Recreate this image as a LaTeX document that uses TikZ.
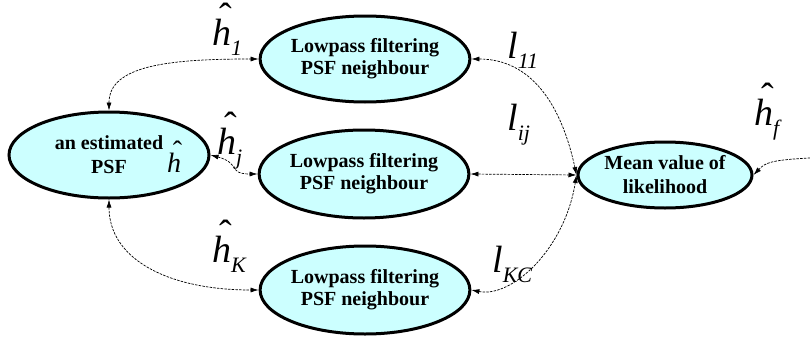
\documentclass[tikz,border=0pt]{standalone}
\usepackage{fontspec}
\setmainfont{Liberation Serif}
\usetikzlibrary{shapes.geometric,arrows.meta}

\definecolor{pale}{RGB}{204,255,255}

% h with a detached circumflex above it
\newcommand\hath{\makebox[0pt][l]{\raisebox{0.4em}{\hspace{0.2em}\upshape\char"02C6}}h}
% a large italic symbol with a lowered subscript
\newcommand\symsub[2]{#1\raisebox{-0.27em}{\fontsize{22}{22}\selectfont #2}}

\tikzset{
  x=1pt, y=-1pt,
  blob/.style={ellipse, draw=black, line width=3pt, fill=pale,
    inner sep=0pt, align=center,
    font=\bfseries\fontsize{20}{24}\selectfont},
  lowpass/.style={blob, minimum width=186pt, minimum height=86pt,
    font=\bfseries\fontsize{20}{22}\selectfont},
  sym/.style={inner sep=0pt, anchor=base west,
    font=\itshape\fontsize{38}{38}\selectfont},
  link/.style={line width=0.7pt, dash pattern=on 2.5pt off 1.2pt,
    {Latex[length=8pt,width=5pt]}-{Latex[length=8pt,width=5pt]}},
  feed/.style={line width=0.7pt, dash pattern=on 2.5pt off 1.2pt,
    -{Latex[length=8pt,width=5pt]}}
}

\begin{document}
\begin{tikzpicture}
\path[use as bounding box] (0,0) rectangle (810,340);

% nodes
\node[blob, minimum width=200pt, minimum height=86pt] (est) at (109,155) {an estimated\\PSF};
\node[lowpass] (lp1) at (365,59) {Lowpass filtering\\PSF neighbour};
\node[lowpass, minimum height=88pt] (lp2) at (364,174) {Lowpass filtering\\PSF neighbour};
\node[lowpass, minimum height=88pt] (lp3) at (365,290) {Lowpass filtering\\PSF neighbour};
\node[blob, minimum width=174pt, minimum height=66pt] (mean) at (665,175) {Mean value of\\likelihood};

% symbols
\node[sym, font=\itshape\fontsize{28}{28}\selectfont] (hin) at (167,172) {\hath};
\node[sym] (h1) at (212,45) {\symsub{\hath}{1}};
\node[sym] (hj) at (217,154) {\symsub{\hath}{\itshape j}};
\node[sym] (hK) at (212,262) {\symsub{\hath}{\itshape K}};
\node[sym] (l11) at (507,58) {\symsub{l}{11}};
\node[sym] (lij) at (507,130) {\symsub{l}{\itshape ij}};
\node[sym] (lKC) at (492,272) {\symsub{l}{\itshape KC}};
\node[sym] (hf) at (754,125) {\symsub{\hath}{\itshape f}};

% connectors
\coordinate (src) at (810,158);
\draw[link] (est.north) .. controls +(0,-45) and +(-90,0) .. (lp1.west);
\draw[link] (est.east) .. controls +(30,8) and +(-30,0) .. (lp2.west);
\draw[link] (est.south) .. controls +(0,60) and +(-90,0) .. (lp3.west);
\draw[link] (lp1.east) .. controls +(60,0) and +(-15,-70) .. (mean.west);
\draw[link] (lp2.east) -- (mean.west);
\draw[link] (lp3.east) .. controls +(40,8) and +(-12,75) .. (mean.west);
\draw[feed] (src) .. controls (770,160) and (765,163) .. (mean.east);
\end{tikzpicture}
\end{document}
